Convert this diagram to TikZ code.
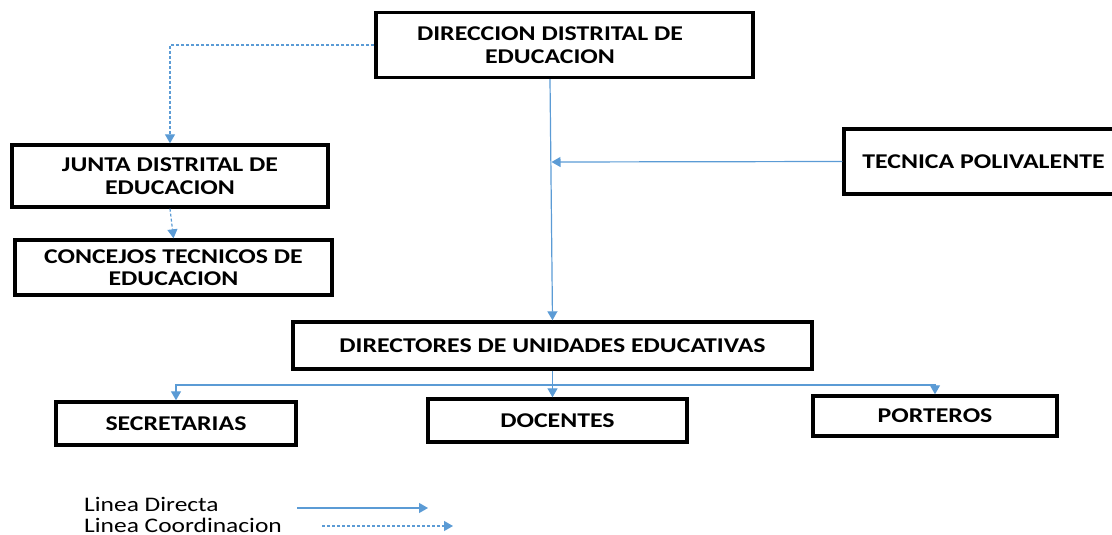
\documentclass[tikz,border=0pt]{standalone}
\usepackage{fontspec}
\setmainfont{Carlito}[FakeStretch=1.23]
\usetikzlibrary{arrows.meta}
\definecolor{lnblue}{RGB}{91,155,213}
\begin{document}
\begin{tikzpicture}[x=1pt,y=-1pt,
  box/.style={draw=black,line width=3.4pt,inner sep=0pt,align=center,font=\fontsize{21}{22.5}\selectfont\bfseries},
  lbl/.style={inner sep=0pt,align=center,font=\fontsize{21}{22.5}\selectfont\bfseries},
  leg/.style={inner sep=0pt,font=\fontsize{20.7}{21}\selectfont},
  direct/.style={draw=lnblue,line width=1.2pt},
  coord/.style={draw=lnblue,line width=1.2pt,dash pattern=on 3pt off 2pt},
  tip/.style={-{Triangle[width=10pt,length=9pt]}}]
\useasboundingbox (0,0) rectangle (1112,535);
\clip (0,0) rectangle (1112,535);
% boxes
\node[box,minimum width=377pt,minimum height=65pt] (dir) at (564.5,45) {};
\node[lbl] (dirtext) at (550,45) {DIRECCION DISTRITAL DE\\EDUCACION};
\node[box,minimum width=316pt,minimum height=62pt] (junta) at (170,176) {JUNTA DISTRITAL DE\\EDUCACION};
\node[box,minimum width=317pt,minimum height=55pt] (conc) at (173.5,267.5) {CONCEJOS TECNICOS DE\\EDUCACION};
\node[box,minimum width=279pt,minimum height=65pt] (tec) at (983.5,161.5) {TECNICA POLIVALENTE};
\node[box,minimum width=519pt,minimum height=47pt] (dirs) at (552.5,345.5) {DIRECTORES DE UNIDADES EDUCATIVAS};
\node[box,minimum width=240pt,minimum height=43pt] (sec) at (176,423.5) {SECRETARIAS};
\node[box,minimum width=259pt,minimum height=43pt] (doc) at (557.5,420.5) {DOCENTES};
\node[box,minimum width=244pt,minimum height=40pt] (por) at (935,416) {PORTEROS};
% connectors
\draw[direct,tip] (dir.south -| dirtext) -- (dirs.north);
\coordinate (jt) at (551.5,162);
\draw[direct,tip] (tec.west) -- (jt);
\draw[coord,tip] (dir.west) -| (junta.north);
\draw[coord,tip] (junta.south) -- (conc.north);
\coordinate (jb) at (552.5,385);
\draw[direct] (dirs.south) -- (jb);
\draw[direct,tip] (jb) -| (sec.north);
\draw[direct,tip] (jb) -| (por.north);
\draw[direct,tip] (jb) -- (jb |- doc.north);
% legend
\node[leg,anchor=base west] (l1) at (84,511.5) {Linea Directa};
\node[leg,anchor=base west] (l2) at (84,532) {Linea Coordinacion};
\coordinate (a1) at (297,508);
\coordinate (a2) at (428,508);
\draw[direct,tip] (a1) -- (a2);
\coordinate (b1) at (322,526);
\coordinate (b2) at (453,526);
\draw[coord,tip] (b1) -- (b2);
\end{tikzpicture}
\end{document}
